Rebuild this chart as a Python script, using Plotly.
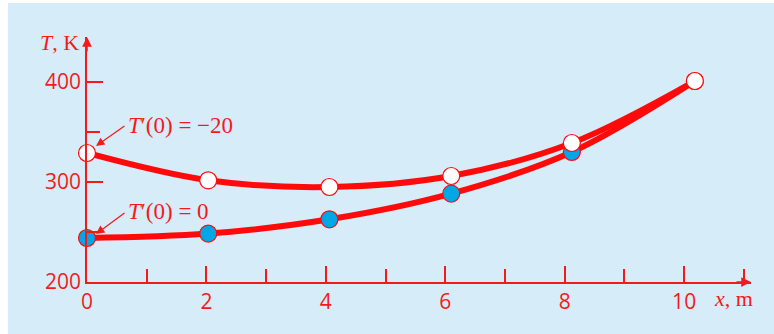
import plotly.graph_objects as go

# ---- data ----
x_pts = [0, 2.03, 4.06, 6.1, 8.12, 10.18]
T_slope_neg20 = [329, 301.7, 295, 306, 339, 401]
T_slope_zero = [244, 248.4, 262.7, 288.4, 330, 401]
x_tick_vals = [0, 2, 4, 6, 8, 10]
x_tick_text = ["0", "2", "4", "6", "8", "10"]
y_tick_vals = [200, 300, 400]
y_tick_text = ["200", "300", "400"]
label_neg20 = "<i>T</i>′(0) = −20"
label_zero = "<i>T</i>′(0) = 0"

RED = "#f51a1a"
LINE_RED = "#ff0a0a"
BLUE = "#00a7e6"
BG = "#d6edf9"

W, H = 774, 334
L, R, T, B = 87, 23, 37, 52
XMAX = 11.12
YMIN, YMAX = 200, 445

def px_x(p):
    return (p - L) / (W - L - R)

def px_y(p):
    return (H - B - p) / (H - T - B)

fig = go.Figure()

# curves
fig.add_trace(go.Scatter(x=x_pts, y=T_slope_zero, mode="lines",
                         line=dict(color=LINE_RED, width=6, shape="spline"),
                         hoverinfo="skip"))
fig.add_trace(go.Scatter(x=x_pts, y=T_slope_neg20, mode="lines",
                         line=dict(color=LINE_RED, width=6, shape="spline"),
                         hoverinfo="skip"))
# markers
fig.add_trace(go.Scatter(x=x_pts, y=T_slope_zero, mode="markers",
                         marker=dict(size=17, color=BLUE, line=dict(color=LINE_RED, width=1.2)),
                         hoverinfo="skip", cliponaxis=False))
fig.add_trace(go.Scatter(x=x_pts, y=T_slope_neg20, mode="markers",
                         marker=dict(size=17, color="white", line=dict(color=LINE_RED, width=1.2)),
                         hoverinfo="skip", cliponaxis=False))

shapes = [dict(type="rect", xref="paper", yref="paper",
               x0=px_x(8), x1=px_x(W + 5), y0=px_y(H + 5), y1=px_y(3),
               fillcolor=BG, line=dict(width=0), layer="below")]

serif = dict(family="Liberation Serif", size=22, color=RED)
serif_lbl = dict(family="Liberation Serif", size=23, color=RED)

annotations = [
    # axis arrows
    dict(x=XMAX, y=YMIN, ax=-16, ay=0, xref="x", yref="y", text="", showarrow=True,
         arrowhead=2, arrowsize=1.3, arrowwidth=1.5, arrowcolor=RED, standoff=0),
    dict(x=0, y=YMAX, ax=0, ay=16, xref="x", yref="y", text="", showarrow=True,
         arrowhead=2, arrowsize=1.3, arrowwidth=1.5, arrowcolor=RED, standoff=0),
    # axis titles
    dict(x=px_x(81), y=px_y(43), xref="paper", yref="paper", xanchor="right", yanchor="middle",
         text="<i>T</i>, K", showarrow=False, font=serif),
    dict(x=px_x(712), y=px_y(298), xref="paper", yref="paper", xanchor="left", yanchor="middle",
         text="<i>x</i>, m", showarrow=False, font=serif),
    # curve labels
    dict(x=px_x(126), y=px_y(125), xref="paper", yref="paper", xanchor="left", yanchor="middle",
         text=label_neg20, showarrow=False, font=serif_lbl),
    dict(x=px_x(126), y=px_y(211), xref="paper", yref="paper", xanchor="left", yanchor="middle",
         text=label_zero, showarrow=False, font=serif_lbl),
    # pointer arrows
    dict(x=px_x(96), y=px_y(146), xref="paper", yref="paper", ax=30, ay=-21,
         text="", showarrow=True, arrowhead=2, arrowsize=1.3, arrowwidth=1.3,
         arrowcolor=RED, standoff=0),
    dict(x=px_x(96), y=px_y(234), xref="paper", yref="paper", ax=30, ay=-22,
         text="", showarrow=True, arrowhead=2, arrowsize=1.3, arrowwidth=1.3,
         arrowcolor=RED, standoff=0),
]

tick_font = dict(family="Open Sans", size=21, color=RED)

fig.update_layout(
    width=W, height=H,
    margin=dict(l=L, r=R, t=T, b=B, pad=0),
    paper_bgcolor="white",
    plot_bgcolor="rgba(0,0,0,0)",
    showlegend=False,
    shapes=shapes,
    annotations=annotations,
    xaxis=dict(range=[0, XMAX], showgrid=False, zeroline=False,
               showline=True, linecolor=RED, linewidth=1.5,
               ticks="inside", ticklen=16, tickwidth=1.5, tickcolor=RED,
               tickvals=x_tick_vals, ticktext=x_tick_text, tickfont=tick_font,
               minor=dict(dtick=1, tick0=0, ticks="inside", ticklen=13, tickwidth=1.5,
                          tickcolor=RED, showgrid=False),
               fixedrange=True),
    yaxis=dict(range=[YMIN, YMAX], showgrid=False, zeroline=False,
               showline=True, linecolor=RED, linewidth=1.5,
               ticks="inside", ticklen=16, tickwidth=1.5, tickcolor=RED,
               tickvals=y_tick_vals, ticktext=y_tick_text, tickfont=tick_font,
               minor=dict(dtick=50, tick0=200, ticks="inside", ticklen=13, tickwidth=1.5,
                          tickcolor=RED, showgrid=False),
               fixedrange=True),
)

fig.write_html("out.html", config={"displayModeBar": False},
               post_script="document.body.style.margin='0';document.body.style.padding='0';")
